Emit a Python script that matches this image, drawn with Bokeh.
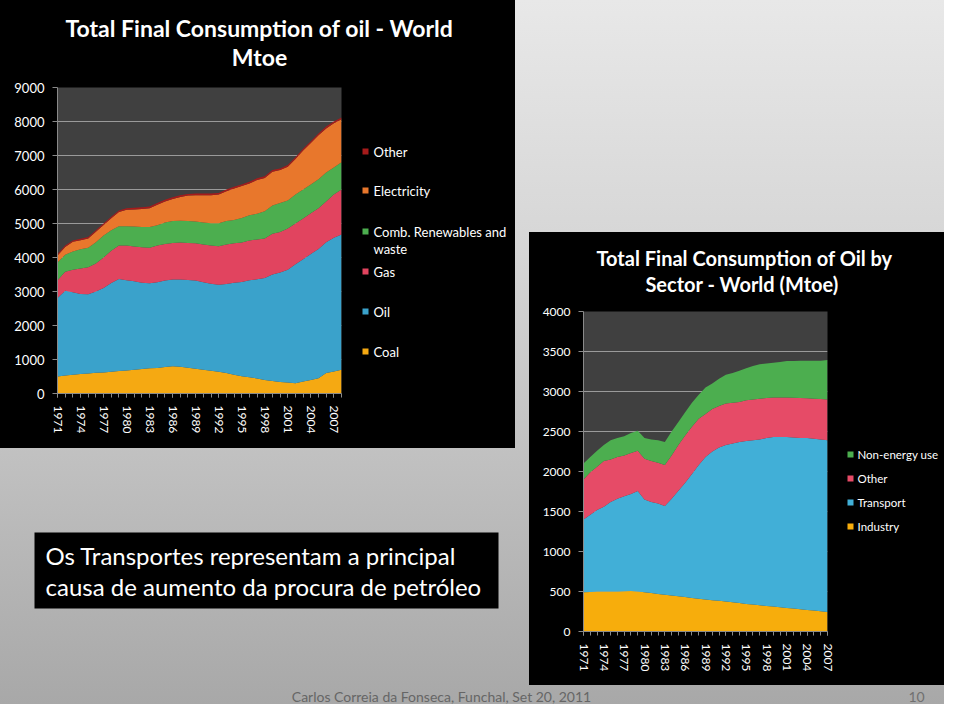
from bokeh.plotting import figure
from bokeh.models import (ColumnDataSource, Range1d, FixedTicker, Label, BoxAnnotation, Spacer)
from bokeh.layouts import row, column
from bokeh.embed import file_html
from bokeh.resources import INLINE

# ---------------- data: chart 1 (Total final consumption, Mtoe) ----------------
years1 = list(range(1971, 2009))
coal = [500,530,550,570,590,610,620,640,660,680,700,720,740,750,780,800,790,760,730,700,
        670,640,600,550,510,480,440,400,370,340,320,300,350,400,450,600,650,700]
oil = [2310,2490,2430,2360,2330,2390,2480,2610,2710,2650,2600,2540,2500,2520,2540,2550,2560,
       2580,2590,2570,2560,2560,2620,2710,2770,2850,2920,3000,3130,3220,3320,3500,3600,3700,
       3800,3850,3930,3980]
gas = [520,560,660,750,790,820,900,950,980,1020,1020,1040,1050,1080,1080,1080,1090,1090,1100,
       1110,1120,1130,1160,1160,1160,1170,1170,1160,1200,1190,1210,1200,1200,1200,1200,1200,
       1270,1320]
renew = [520,500,540,560,580,630,650,600,570,570,590,600,610,600,630,640,640,640,640,650,660,
         680,690,680,720,740,760,800,830,850,830,850,850,850,850,850,800,800]
elec = [210,230,280,270,270,305,305,355,415,485,500,530,550,600,620,650,700,750,770,800,820,
        840,880,930,940,940,990,980,990,970,990,1050,1150,1215,1295,1295,1295,1265]
other1 = [40,40,40,40,40,45,45,45,45,45,50,50,50,50,50,50,50,50,50,50,50,50,50,50,50,50,50,
          50,50,50,50,50,50,55,55,55,55,55]
# legend order, top to bottom (second line of the 3rd label: "waste")
legend1 = ["Other", "Electricity", "Comb. Renewables and", "Gas", "Oil", "Coal"]
ticks1 = list(range(1971, 2008, 3))
yticks1 = list(range(0, 10000, 1000))

# ---------------- data: chart 2 (oil by sector, Mtoe) ----------------
years2 = list(range(1971, 2008))
industry = [490,495,500,500,500,500,502,505,500,490,480,470,460,450,440,430,420,410,400,392,
            385,375,365,355,345,337,328,320,312,303,295,287,278,270,262,253,245]
transport = [910,965,1020,1060,1120,1160,1188,1215,1255,1160,1140,1130,1110,1210,1320,1430,
             1550,1670,1780,1858,1915,1955,1985,2015,2035,2053,2072,2100,2118,2127,2135,2138,
             2142,2150,2148,2147,2145]
other2 = [500,530,540,570,530,520,510,510,505,510,510,510,510,540,570,590,590,580,540,530,520,
          520,510,500,510,510,510,500,495,495,495,497,500,495,500,505,510]
nonenergy = [200,190,200,200,240,240,240,250,250,260,270,280,290,300,290,290,300,300,330,320,
             340,360,370,390,400,420,430,430,435,445,455,458,465,470,475,480,495]
legend2 = ["Non-energy use", "Other", "Transport", "Industry"]
ticks2 = list(range(1971, 2008, 3))
yticks2 = list(range(0, 4500, 500))

FONT = "Lato"
AXIS_GREY = "#8a8a8a"
COLS1 = ["#f5a912", "#3aa2cb", "#e1445f", "#4cae4f", "#e8772c", "#a61b1b"]
COLS2 = ["#f7ad0c", "#41afd7", "#e64b67", "#4cae4f"]
BLACK_CSS = {"background-color": "black"}


def blank(width, height, x0, x1, y0, y1, fill=None, borders=(0, 0, 0, 0)):
    """A plain panel whose data coordinates equal slide pixels (frame region x0..x1, y0..y1)."""
    l, r, t, b = borders
    p = figure(width=width, height=height, output_backend="svg", toolbar_location=None,
               x_range=Range1d(x0, x1), y_range=Range1d(y1, y0),
               x_axis_location=None, y_axis_location=None,
               min_border_left=l, min_border_right=r, min_border_top=t, min_border_bottom=b,
               outline_line_color=None)
    p.grid.visible = False
    if fill is None:
        p.background_fill_alpha = 0
        p.border_fill_alpha = 0
    else:
        p.background_fill_color = fill
        p.border_fill_color = fill
        p.styles = BLACK_CSS
    return p


def text(p, x, y, s, size, color="white", bold=False, align="left"):
    p.add_layout(Label(x=x, y=y, text=s, text_color=color, text_font_size=size,
                       text_font=FONT, text_font_style="bold" if bold else "normal",
                       text_align=align, text_baseline="middle"))


def style_axes(p, yticks, xticks, xminor, lab_size):
    p.yaxis.ticker = FixedTicker(ticks=yticks)
    p.xaxis.ticker = FixedTicker(ticks=xticks, minor_ticks=xminor)
    for ax in (p.xaxis, p.yaxis):
        ax.axis_line_color = AXIS_GREY
        ax.major_tick_line_color = AXIS_GREY
        ax.major_label_text_color = "white"
        ax.major_label_text_font = FONT
        ax.major_tick_in = 0
    p.yaxis.major_tick_out = 5
    p.yaxis.minor_tick_line_color = None
    p.yaxis.major_label_text_font_size = lab_size
    p.yaxis.major_label_standoff = 8
    p.xaxis.major_tick_out = 4
    p.xaxis.minor_tick_in = 0
    p.xaxis.minor_tick_out = 4
    p.xaxis.minor_tick_line_color = AXIS_GREY
    p.xaxis.major_label_orientation = "vertical"
    p.xaxis.major_label_text_font_size = "12px"
    p.xaxis.major_label_standoff = 8
    p.xgrid.visible = False
    p.ygrid.grid_line_color = "#9a9a9a"
    p.ygrid.grid_line_width = 1
    p.styles = BLACK_CSS


def legend_panel(p, labels, colors, ys, x_sq, x_txt, size):
    for lab, yy, cc in zip(labels, ys, colors):
        p.add_layout(BoxAnnotation(left=x_sq, right=x_sq + 6, top=yy - 3, bottom=yy + 3,
                                   fill_color=cc, fill_alpha=1, line_color=None))
        text(p, x_txt, yy, lab, size)


# ================= chart 1 block: slide x 0..515, y 0..448 =================
p1T = blank(515, 80, 0, 515, 0, 80, fill="black")
text(p1T, 259, 27, "Total Final Consumption of oil - World", "23px", bold=True, align="center")
text(p1T, 259, 56, "Mtoe", "23px", bold=True, align="center")

# chart frame: x 57..341, y 87..393 ; figure spans x 0..352, y 80..448
p1 = figure(width=352, height=368, output_backend="svg", toolbar_location=None,
            x_range=Range1d(1971, 2008), y_range=Range1d(0, 9000),
            min_border_left=57, min_border_right=11, min_border_top=7, min_border_bottom=55,
            background_fill_color="#404040", border_fill_color="black", outline_line_color=None)
src1 = ColumnDataSource(dict(year=years1, coal=coal, oil=oil, gas=gas, renew=renew,
                             elec=elec, other=other1))
r1 = p1.varea_stack(stackers=["coal", "oil", "gas", "renew", "elec", "other"], x="year",
                    color=COLS1, source=src1)
style_axes(p1, yticks1, ticks1, years1, "13px")

# legend panel for chart 1: x 352..515 ; frame rows aligned with chart frame (y 87..393)
p1R = blank(163, 368, 352, 515, 87, 393, fill="black", borders=(0, 0, 7, 55))
legend_panel(p1R, legend1, COLS1[::-1], [151, 190, 231, 271, 311, 351], 362, 373, "13px")
text(p1R, 373, 248, "waste", "13px")

chart1 = column(p1T, row(p1, p1R, styles=BLACK_CSS), styles=BLACK_CSS)

# ================= chart 2 block: slide x 529..944, y 232..685 =================
p2T = blank(415, 70, 529, 944, 232, 302, fill="black")
text(p2T, 744, 257, "Total Final Consumption of Oil by", "20px", bold=True, align="center")
text(p2T, 744, 283, "Sector  - World (Mtoe)", "20px", bold=True, align="center")

# chart frame: x 583..827, y 311..631 ; figure spans x 529..842, y 302..685
p2 = figure(width=313, height=383, output_backend="svg", toolbar_location=None,
            x_range=Range1d(1971, 2007), y_range=Range1d(0, 4000),
            min_border_left=54, min_border_right=15, min_border_top=9, min_border_bottom=54,
            background_fill_color="#404040", border_fill_color="black", outline_line_color=None)
src2 = ColumnDataSource(dict(year=years2, industry=industry, transport=transport,
                             other=other2, nonenergy=nonenergy))
r2 = p2.varea_stack(stackers=["industry", "transport", "other", "nonenergy"], x="year",
                    color=COLS2, source=src2)
style_axes(p2, yticks2, ticks2, years2, "12px")

# legend panel for chart 2: x 842..944 ; frame rows aligned with chart frame (y 311..631)
p2R = blank(102, 383, 842, 944, 311, 631, fill="black", borders=(0, 0, 9, 54))
legend_panel(p2R, legend2, COLS2[::-1], [454, 478, 502, 526], 847, 857, "11.5px")

chart2 = column(p2T, row(p2, p2R, styles=BLACK_CSS), styles=BLACK_CSS)

# ================= lower-left text box: slide x 0..529, y 448..685 =================
pLB = blank(529, 237, 0, 529, 448, 685)
pLB.add_layout(BoxAnnotation(left=34, right=498, top=532, bottom=608, fill_color="black",
                             fill_alpha=1, line_color=None))
text(pLB, 45, 555, "Os Transportes representam a principal", "24px")
text(pLB, 45, 586, "causa de aumento da procura de petróleo", "24px")

# ================= footer: slide y 685..704 =================
pF = blank(944, 19, 0, 944, 685, 704)
text(pF, 441, 696, "Carlos Correia da Fonseca, Funchal, Set 20, 2011", "14px",
     color="#666666", align="center")
text(pF, 916, 696, "10", "14px", color="#707070", align="center")

left_col = column(row(chart1, Spacer(width=14, height=448)), pLB)
right_col = column(Spacer(width=415, height=232), chart2)
page = column(row(left_col, right_col), pF,
              styles={"background": "linear-gradient(to bottom, #e8e8e8 0%, #d6d6d6 35%, "
                                    "#bdbdbd 70%, #a8a8a8 100%)"})

open("out.html", "w").write(file_html(page, INLINE))
